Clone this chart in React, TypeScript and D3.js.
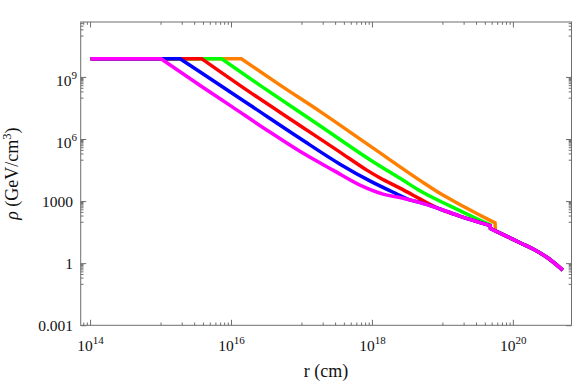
import * as d3 from "d3";

const W = 578;
const H = 382;
const M = { top: 22, right: 6.5, bottom: 56.7, left: 80.7 };

// axis ranges, in log10 units
const rExpRange = [13.86, 20.825];
const rhoExpRange = [-2.98, 11.68];

// tick labels
const xMajorExp = [14, 16, 18, 20];
const yMajorExp = [-3, 0, 3, 6, 9];
const yPlainLabels: Record<number, string> = { [-3]: "0.001", 0: "1", 3: "1000" };

// density curves, points are [log10 r(cm), log10 rho(GeV/cm^3)]
const plateau = 9.9;
const haloInner = [[18.15, 3.36], [18.39, 3.2], [18.68, 2.95], [18.96, 2.64], [19.24, 2.3], [19.67, 1.84]];
const haloOuter = [[19.675, 1.7], [19.9, 1.33], [20.1, 1.0], [20.3, 0.67], [20.5, 0.25], [20.7, -0.31]];

// break radius of the plateau for each curve
const breakMagenta = 15.0;
const breakBlue = 15.27;
const breakRed = 15.58;
const breakGreen = 15.86;
const breakOrange = 16.14;

const spikeMagenta = [[15.55, 8.62], [16.0, 7.6], [16.5, 6.46], [16.97, 5.43], [17.44, 4.52], [17.87, 3.72]];
const spikeBlue = [[15.55, 9.275], [16.26, 7.67], [16.97, 6.06], [17.54, 4.81], [17.97, 3.99], [18.32, 3.41], [18.53, 3.08]];
const spikeRed = [[16.26, 8.29], [16.97, 6.68], [17.54, 5.39], [17.92, 4.52], [18.11, 4.14], [18.39, 3.65], [18.68, 3.12], [18.85, 2.81]];
const spikeGreen = [[16.4, 8.63], [17.26, 6.65], [17.97, 5.01], [18.43, 4.04], [18.68, 3.51], [19.1, 2.79], [19.57, 2.03], [19.67, 1.88]];
const spikeOrange = [[16.69, 8.63], [17.26, 7.35], [17.97, 5.68], [18.69, 3.99], [18.91, 3.5], [19.1, 3.12], [19.3, 2.75], [19.5, 2.39], [19.74, 1.97]];
const orangeDrop = [19.745, 1.58];

const after = (pts: number[][], r: number) => pts.filter((p) => p[0] > r);
const flat = (b: number) => [[14, plateau], [b, plateau]];

// each curve: smooth pieces joined by straight segments (drawn back to front)
const curves = [
  { color: "#ff8000", pieces: [flat(breakOrange), [[breakOrange, plateau], ...spikeOrange], [orangeDrop, ...after(haloOuter, orangeDrop[0])]] },
  { color: "#00ff00", pieces: [flat(breakGreen), [[breakGreen, plateau], ...spikeGreen], haloOuter] },
  { color: "#ff0000", pieces: [flat(breakRed), [[breakRed, plateau], ...spikeRed, ...after(haloInner, 18.85)], haloOuter] },
  { color: "#0000ff", pieces: [flat(breakBlue), [[breakBlue, plateau], ...spikeBlue, ...after(haloInner, 18.53)], haloOuter] },
  { color: "#ff00ff", pieces: [flat(breakMagenta), [[breakMagenta, plateau], ...spikeMagenta, ...haloInner], haloOuter] },
];

const FONT = "'Liberation Serif', 'Times New Roman', serif";
const AXIS = "#6e6e6e";

export default function App() {
  const x = d3.scaleLog().domain(rExpRange.map((e) => 10 ** e)).range([M.left, W - M.right]);
  const y = d3.scaleLog().domain(rhoExpRange.map((e) => 10 ** e)).range([H - M.bottom, M.top]);

  const line = d3
    .line<number[]>()
    .x((d) => x(10 ** d[0]))
    .y((d) => y(10 ** d[1]))
    .curve(d3.curveMonotoneX);

  const pathOf = (pieces: number[][][]) =>
    pieces
      .filter((p) => p.length)
      .map((p, i) => {
        const s = line(p) || "";
        return i ? "L" + s.slice(1) : s;
      })
      .join("");

  // minor ticks: the decade below each major tick
  const xMinor: number[] = [];
  [14, 16, 18, 20].forEach((e) => {
    for (let k = 1; k <= 9; k++) xMinor.push(k * 10 ** (e - 1));
  });
  const yMinor: number[] = [];
  [-3, 0, 3, 6, 9, 12].forEach((e) => {
    for (let k = 1; k <= 9; k++) yMinor.push(k * 10 ** (e - 1));
  });
  const [x0, x1] = x.range();
  const [y0, y1] = y.range();
  const inX = (v: number) => v >= x.domain()[0] && v <= x.domain()[1];
  const inY = (v: number) => v >= y.domain()[0] && v <= y.domain()[1];

  const major = 5.5;
  const minor = 2.8;

  return (
    <svg
      width={W}
      height={H}
      style={{ position: "absolute", left: 0, top: 0, background: "#fff" }}
      fontFamily={FONT}
    >
      {/* curves */}
      <g fill="none" strokeWidth={3.5} strokeLinejoin="miter">
        {curves.map((c, i) => (
          <path key={i} d={pathOf(c.pieces)} stroke={c.color} />
        ))}
      </g>

      {/* frame */}
      <rect x={x0} y={y1} width={x1 - x0} height={y0 - y1} fill="none" stroke={AXIS} strokeWidth={1} />

      {/* ticks on all four sides */}
      <g stroke={AXIS} strokeWidth={1}>
        {xMajorExp.map((e) => {
          const px = x(10 ** e);
          return (
            <g key={"xM" + e}>
              <line x1={px} x2={px} y1={y0} y2={y0 - major} />
              <line x1={px} x2={px} y1={y1} y2={y1 + major} />
            </g>
          );
        })}
        {xMinor.filter(inX).map((v, i) => {
          const px = x(v);
          return (
            <g key={"xm" + i}>
              <line x1={px} x2={px} y1={y0} y2={y0 - minor} />
              <line x1={px} x2={px} y1={y1} y2={y1 + minor} />
            </g>
          );
        })}
        {yMajorExp.map((e) => {
          const py = y(10 ** e);
          return (
            <g key={"yM" + e}>
              <line x1={x0} x2={x0 + major} y1={py} y2={py} />
              <line x1={x1} x2={x1 - major} y1={py} y2={py} />
            </g>
          );
        })}
        {yMinor.filter(inY).map((v, i) => {
          const py = y(v);
          return (
            <g key={"ym" + i}>
              <line x1={x0} x2={x0 + minor} y1={py} y2={py} />
              <line x1={x1} x2={x1 - minor} y1={py} y2={py} />
            </g>
          );
        })}
      </g>

      {/* x tick labels */}
      <g fontSize={15.5} fill="#111" textAnchor="middle">
        {xMajorExp.map((e) => (
          <text key={e} x={x(10 ** e)} y={351}>
            10
            <tspan dy={-7} fontSize={11}>
              {e}
            </tspan>
          </text>
        ))}
      </g>

      {/* y tick labels */}
      <g fontSize={15.5} fill="#111" textAnchor="end">
        {yMajorExp.map((e) => {
          const py = y(10 ** e);
          const plain = yPlainLabels[e];
          return plain ? (
            <text key={e} x={73} y={py + 5.5}>
              {plain}
            </text>
          ) : (
            <text key={e} x={77} y={py + 8.5}>
              10
              <tspan dy={-7} fontSize={11}>
                {e}
              </tspan>
            </text>
          );
        })}
      </g>

      {/* axis titles */}
      <text x={(x0 + x1) / 2} y={377} fontSize={18} textAnchor="middle" fill="#111">
        r (cm)
      </text>
      <text transform={`translate(17.5,${(y0 + y1) / 2}) rotate(-90)`} fontSize={18} textAnchor="middle" fill="#111">
        <tspan fontStyle="italic">ρ</tspan> (GeV/cm
        <tspan dy={-7} fontSize={12.5}>
          3
        </tspan>
        <tspan dy={7}>)</tspan>
      </text>
    </svg>
  );
}
